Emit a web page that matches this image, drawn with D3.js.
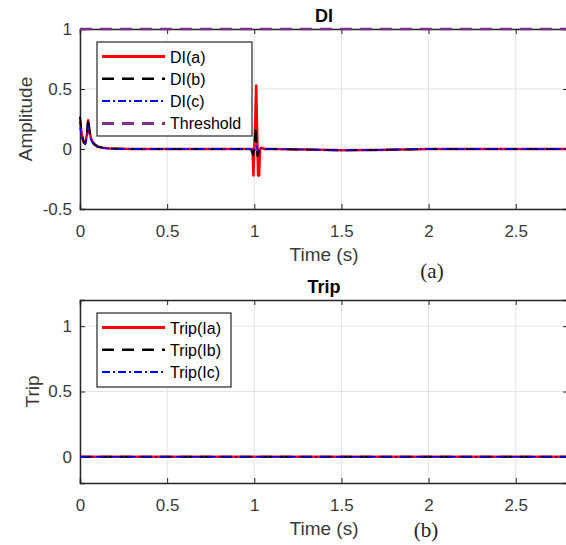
<!DOCTYPE html>
<html><head><meta charset="utf-8">
<script src="https://cdn.jsdelivr.net/npm/d3@7"></script>
<style>body{margin:0;background:#fff}svg{display:block}text{font-family:"Liberation Sans",Arial,sans-serif}</style>
</head><body><svg id="c" width="566" height="545"></svg>
<script>
// ---- data ----
const tA = [0,0.005,0.01,0.02,0.03,0.04,0.047,0.055,0.065,0.08,0.1,0.13,0.17,0.22,0.3,0.5,0.8,0.98,0.99,0.995,1.0,1.005,1.011,1.017,1.022,1.028,1.033,1.04,1.06,1.1,1.3,1.5,1.7,2.0,2.3,2.6,2.8];
const diA = [0.23,0.18,0.12,0.06,0.05,0.12,0.24,0.14,0.08,0.04,0.02,0.01,0.004,0.002,0,0,0,0,0,-0.22,0.0,0.2,0.53,0.1,-0.22,-0.22,0.0,0.01,0,0,-0.005,-0.01,-0.008,0,0,0,0];
const tB = [0,0.005,0.01,0.02,0.03,0.04,0.047,0.055,0.065,0.08,0.1,0.13,0.17,0.22,0.3,0.5,0.8,0.98,0.995,1.002,1.008,1.013,1.018,1.025,1.03,1.04,1.06,1.1,1.3,1.5,1.7,2.0,2.3,2.6,2.8];
const diB = [0.27,0.2,0.13,0.06,0.04,0.14,0.26,0.15,0.09,0.045,0.022,0.01,0.004,0.002,0,0,0,0,-0.05,0.05,0.19,0.02,-0.06,-0.03,0.0,0.01,0,0,-0.005,-0.01,-0.008,0,0,0,0];
const tC = [0,0.005,0.01,0.02,0.03,0.04,0.047,0.055,0.065,0.08,0.1,0.13,0.17,0.22,0.3,0.5,0.8,0.98,1.0,1.01,1.02,1.03,1.05,1.1,1.3,1.5,1.7,2.0,2.3,2.6,2.8];
const diC = [0.18,0.14,0.1,0.05,0.04,0.1,0.19,0.12,0.07,0.035,0.018,0.008,0.003,0.001,0,0,0,0,-0.02,0.03,-0.02,0.01,0,0,-0.005,-0.01,-0.008,0,0,0,0];
const threshold = 1;
const tTrip = [0, 2.8];
const tripA = [0, 0];
const tripB = [0, 0];
const tripC = [0, 0];
const xTicks = [0,0.5,1,1.5,2,2.5];
const yTicksDI = [-0.5,0,0.5,1];
const yTicksTrip = [0,0.5,1];
const diLegend = ["DI(a)","DI(b)","DI(c)","Threshold"];
const tripLegend = ["Trip(Ia)","Trip(Ib)","Trip(Ic)"];

// ---- styles ----
const styles = [
  {color:"#ff0000", width:2.5, dash:null},
  {color:"#000000", width:2, dash:"12,8"},
  {color:"#0000ff", width:1.5, dash:"8,3,2,3"},
  {color:"#7e2f8e", width:2.5, dash:"12,8"}
];
const axisColor = "#262626";
const tickColor = "#3a3a3a";
const svg = d3.select("#c");

function panel(opts){
  const {left,right,top,bottom,ydom,yticks,title,ylabel,ylabX,series,legend,legBox,sub} = opts;
  const x = d3.scaleLinear().domain([0,2.8]).range([left,right]);
  const y = d3.scaleLinear().domain(ydom).range([bottom,top]);
  const g = svg.append("g");
  // grid
  g.selectAll(".gx").data(xTicks).join("line")
    .attr("x1",d=>x(d)).attr("x2",d=>x(d)).attr("y1",top).attr("y2",bottom)
    .attr("stroke","#e3e3e3").attr("stroke-width",1);
  g.selectAll(".gy").data(yticks).join("line")
    .attr("x1",left).attr("x2",right).attr("y1",d=>y(d)).attr("y2",d=>y(d))
    .attr("stroke","#e3e3e3").attr("stroke-width",1);
  // axes
  const fmt = d => String(d);
  const xa = g.append("g").attr("transform",`translate(0,${bottom})`)
    .call(d3.axisBottom(x).tickValues(xTicks).tickSize(-5).tickPadding(0).tickFormat(fmt));
  xa.selectAll("text").attr("dy",null).attr("y",28);
  const xt = g.append("g").attr("transform",`translate(0,${top})`)
    .call(d3.axisTop(x).tickValues(xTicks).tickSize(-5).tickFormat(""));
  const ya = g.append("g").attr("transform",`translate(${left},0)`)
    .call(d3.axisLeft(y).tickValues(yticks).tickSize(-5).tickPadding(8).tickFormat(fmt));
  const yr = g.append("g").attr("transform",`translate(${right},0)`)
    .call(d3.axisRight(y).tickValues(yticks).tickSize(-5).tickFormat(""));
  [xa,xt,ya,yr].forEach(a=>{
    a.selectAll("path").attr("stroke",axisColor).attr("stroke-width",1.5);
    a.selectAll("line").attr("stroke",axisColor);
    a.selectAll("text").attr("fill",tickColor).style("font-size","17px");
  });
  // series (on top of box)
  const line = d3.line().x(d=>x(d[0])).y(d=>y(d[1]));
  series.forEach((s,i)=>{
    const st = styles[s.style];
    g.append("path").datum(s.t.map((t,j)=>[t,s.v[j]]))
      .attr("d",line).attr("fill","none").attr("stroke",st.color)
      .attr("stroke-width",st.width).attr("stroke-dasharray",st.dash)
      .attr("stroke-linejoin","round");
  });
  // title & labels
  g.append("text").attr("x",(left+right)/2).attr("y",top-7).attr("text-anchor","middle")
    .attr("font-weight","bold").style("font-size","18px").attr("fill","#000").text(title);
  g.append("text").attr("transform",`translate(${ylabX},${(top+bottom)/2}) rotate(-90)`)
    .attr("text-anchor","middle").style("font-size","19px").attr("fill",tickColor).text(ylabel);
  g.append("text").attr("x",(left+right)/2).attr("y",bottom+52).attr("text-anchor","middle")
    .style("font-size","19px").attr("fill",tickColor).text("Time (s)");
  g.append("text").attr("x",sub.x).attr("y",sub.y).attr("text-anchor","middle")
    .style("font-family","'Liberation Serif','DejaVu Serif',serif").style("font-size","21px").attr("fill","#222").text(sub.t);
  // legend
  g.append("rect").attr("x",legBox.x).attr("y",legBox.y).attr("width",legBox.w).attr("height",legBox.h)
    .attr("fill","#fff").attr("stroke",axisColor).attr("stroke-width",1.2);
  legend.forEach((name,i)=>{
    const st = styles[i];
    const ly = legBox.y + 14.5 + i*22.3;
    g.append("line").attr("x1",legBox.x+5).attr("x2",legBox.x+68).attr("y1",ly).attr("y2",ly)
      .attr("stroke",st.color).attr("stroke-width",st.width+0.5).attr("stroke-dasharray",st.dash);
    g.append("text").attr("x",legBox.x+73).attr("y",ly+6).style("font-size","16px")
      .attr("fill","#000").text(name);
  });
}

panel({left:80,right:568,top:29,bottom:209,ydom:[-0.5,1],yticks:yTicksDI,title:"DI",ylabel:"Amplitude",ylabX:32,
  series:[{t:tA,v:diA,style:0},{t:tB,v:diB,style:1},{t:tC,v:diC,style:2},{t:[0,2.8],v:[threshold,threshold],style:3}],
  legend:diLegend,legBox:{x:97,y:42,w:155,h:94},sub:{x:432,y:278,t:"(a)"}});
panel({left:80,right:568,top:300,bottom:483,ydom:[-0.2,1.2],yticks:yTicksTrip,title:"Trip",ylabel:"Trip",ylabX:39,
  series:[{t:tTrip,v:tripA,style:0},{t:tTrip,v:tripB,style:1},{t:tTrip,v:tripC,style:2}],
  legend:tripLegend,legBox:{x:97,y:313,w:134,h:74},sub:{x:426,y:537,t:"(b)"}});
</script></body></html>
